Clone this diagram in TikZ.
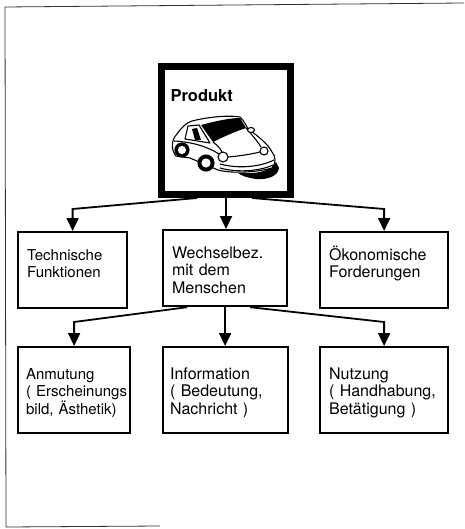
\documentclass[tikz,border=0pt]{standalone}
\usepackage{fontspec}
\setmainfont{TeX Gyre Heros}
\usetikzlibrary{arrows.meta,calc}
\tikzset{every picture/.style={/utils/exec={\fontsize{16pt}{17.5pt}\selectfont}}}
\tikzset{box/.style={draw,line width=2.2pt,anchor=north west,align=left,inner xsep=9pt,inner ysep=0pt}}
\tikzset{rowtwo/.style={box,text height=28pt,text depth=48pt}}
\tikzset{rowthree/.style={box,text height=32pt,text depth=54pt}}
\tikzset{narrow/.style={font=\fontsize{15pt}{17.5pt}\selectfont}}
\tikzset{conn/.style={-{Triangle[length=13pt,width=12pt]},line width=1.8pt}}
\tikzset{frame/.style={line width=0.8pt,black!80}}
\tikzset{car/.style={line width=1.1pt,line join=round}}

\begin{document}
\begin{tikzpicture}[x=1pt,y=-1pt]
    \useasboundingbox (0,0) rectangle (464,529);
    \draw [frame] (464,3) -- (5,7) -- (6,527) -- (160,526);
    \node [box,line width=7pt,inner xsep=9pt,text width=111pt,text height=35.5pt,text depth=92.5pt,
        font=\bfseries\fontsize{16.5pt}{18pt}\selectfont] (prod) at (158,63) {Produkt};
    \begin{scope}[shift={($(prod.north west)+(10,49)$)},car]
        \fill (70,61) .. controls (88,62) and (102,60) .. (108,50) -- (111,56)
            .. controls (110,64) and (100,68) .. (88,67) .. controls (80,66) and (74,64) .. (70,61) -- cycle;
        \draw [fill=white] (8,44) .. controls (3,38) and (3,28) .. (9,22)
            .. controls (14,15) and (18,11) .. (24,9)
            .. controls (40,5) and (60,3) .. (72,5)
            .. controls (76,9) and (78,13) .. (80,17)
            .. controls (90,24) and (100,32) .. (104,40)
            .. controls (108,44) and (108,52) .. (104,56)
            .. controls (90,60) and (65,62) .. (50,58)
            -- (22,46) -- cycle;
        \fill (33,13) .. controls (48,9) and (62,6) .. (72,6) -- (78,16)
            .. controls (66,20) and (55,25) .. (45,30) -- cycle;
        \draw (20,14) -- (31,13) -- (42,31) -- (17,27) -- cycle;
        \fill (24,17) -- (29,16) -- (33,28) -- (27,28) -- cycle;
        \draw (6,29) .. controls (25,30) and (40,35) .. (51,42);
        \draw (45,30) .. controls (49,33) and (52,36) .. (54,40);
        \draw (78,16) .. controls (85,24) and (90,30) .. (93,35);
        \draw (60,45) .. controls (72,44) and (84,42) .. (92,40);
        \draw (52,52) .. controls (70,57) and (92,55) .. (106,48);
        \draw (52,56) .. controls (70,61) and (92,59) .. (105,53);
        \draw [fill=white] (55,45) circle (5) (96,39) circle (4);
        \draw [fill=white] (83,18) ellipse (3.5 and 2.5);
        \filldraw (14,38) circle (7) (38,51) circle (8);
        \filldraw [white] (14,38) circle (3.5) (38,51) circle (4);
    \end{scope}
    \node [rowtwo,narrow,text width=91pt] (tech) at (17,231) {Technische\\Funktionen};
    \node [rowtwo,text width=106pt] (wech) at (162,229) {Wechselbez.\\mit dem\\Menschen};
    \node [rowtwo,text width=110pt] (oeko) at (319,231) {Ökonomische\\Forderungen};
    \node [rowthree,narrow,inner xsep=8pt,text width=96pt] (anm) at (17,346)
        {Anmutung\\\mbox{( Erscheinungs}\\\mbox{bild, Ästhetik)}};
    \node [rowthree,inner xsep=7pt,text width=111pt] (info) at (162,346) {Information\\( Bedeutung,\\Nachricht )};
    \node [rowthree,text width=110pt] (nutz) at (319,346) {Nutzung\\( Handhabung,\\Betätigung )};
    \draw [conn] ([xshift=-29pt]prod.south) -- ([yshift=22pt]tech.north) -- (tech.north);
    \draw [conn] (prod.south) -- (prod.south |- wech.north);
    \draw [conn] ([xshift=26pt]prod.south) -- ([yshift=22pt]oeko.north) -- (oeko.north);
    \draw [conn] ([xshift=-38pt]wech.south) -- ([yshift=24pt]anm.north) -- (anm.north);
    \draw [conn] (wech.south) -- (wech.south |- info.north);
    \draw [conn] ([xshift=25pt]wech.south) -- ([yshift=24pt]nutz.north) -- (nutz.north);
\end{tikzpicture}
\end{document}
